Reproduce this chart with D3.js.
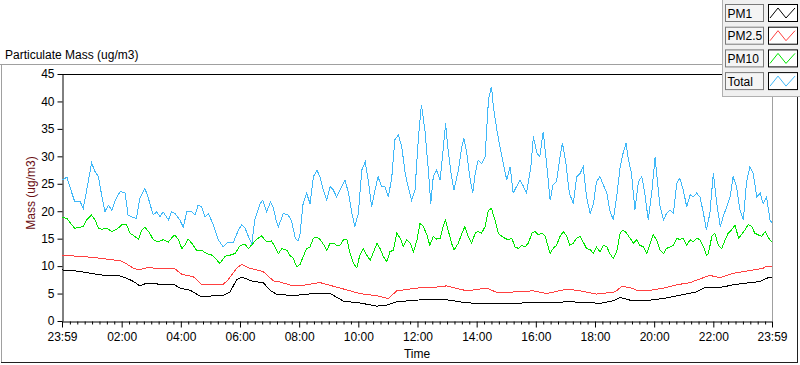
<!DOCTYPE html>
<html>
<head>
<meta charset="utf-8">
<title>Particulate Mass</title>
<script src="https://d3js.org/d3.v7.min.js"></script>
<style>
  body { margin: 0; background: #fff; }
  svg text { font-family: "Liberation Sans", Arial, sans-serif; font-size: 12px; }
</style>
</head>
<body>
<svg id="chart" width="800" height="365"></svg>
<script>
// samples: [minutes since 23:59, ug/m3]
const pm1Data = [[0,9.3],[30,9.1],[57,8.7],[77,8.4],[118,8.2],[131,7.8],[145,7.2],[158,6.4],[172,6.9],[199,6.7],[226,6.7],[239,6.0],[260,5.6],[283,4.4],[307,4.6],[327,4.7],[341,5.3],[354,7.5],[364,8.0],[388,7.2],[408,7.0],[422,5.6],[435,4.9],[469,4.6],[496,4.9],[523,5.0],[544,5.0],[571,3.6],[604,3.3],[638,2.7],[659,2.9],[679,3.5],[719,3.8],[753,4.0],[787,3.8],[821,3.3],[861,3.2],[902,3.2],[942,3.3],[983,3.3],[1024,3.5],[1064,3.4],[1091,3.2],[1118,3.7],[1132,4.3],[1152,3.8],[1193,3.8],[1220,4.1],[1253,4.7],[1287,5.3],[1301,6.0],[1314,6.1],[1341,6.2],[1361,6.6],[1388,6.9],[1416,7.2],[1429,7.8],[1440,8.0]]

const pm25Data = [[0,12.0],[30,11.8],[63,11.6],[97,11.2],[118,11.0],[131,10.4],[145,9.6],[155,9.3],[172,9.7],[199,9.6],[229,9.5],[243,8.5],[266,8.1],[283,6.7],[307,6.7],[327,6.7],[337,7.5],[354,9.6],[364,10.3],[381,9.6],[408,9.0],[429,7.3],[442,7.1],[469,6.4],[489,6.5],[523,7.0],[564,6.0],[604,5.0],[638,4.6],[662,4.1],[679,5.5],[719,6.0],[753,6.1],[780,6.4],[821,5.5],[861,6.0],[882,5.2],[922,5.3],[956,5.5],[983,5.0],[1024,5.8],[1051,5.5],[1084,4.9],[1122,5.3],[1135,6.3],[1152,6.1],[1166,5.6],[1193,5.6],[1220,6.0],[1247,6.6],[1274,7.0],[1301,7.9],[1314,8.3],[1335,7.9],[1355,8.5],[1368,8.8],[1395,9.2],[1422,9.6],[1429,10.0],[1440,10.0]]

const pm10Data = [[0,18.9],[10,18.7],[20,17.5],[26,16.9],[37,17.1],[43,17.2],[50,18.4],[60,19.3],[67,18.4],[74,16.9],[81,16.7],[91,16.9],[101,16.3],[111,16.7],[121,17.5],[131,17.5],[138,16.0],[148,15.4],[155,14.9],[162,16.6],[168,17.1],[178,16.0],[185,14.8],[195,14.4],[205,14.8],[216,14.4],[222,15.1],[229,15.7],[236,14.8],[243,13.2],[249,13.8],[256,14.9],[263,14.2],[273,12.9],[283,12.9],[293,12.3],[304,12.0],[314,11.1],[320,10.5],[331,11.8],[341,12.0],[351,12.3],[361,13.7],[371,14.0],[378,13.2],[385,13.9],[395,14.9],[405,15.5],[415,14.4],[425,14.6],[432,13.5],[439,12.3],[446,13.2],[456,12.9],[462,12.0],[469,11.4],[476,9.9],[483,10.3],[489,11.7],[496,13.2],[503,13.5],[510,15.1],[517,15.3],[523,14.9],[530,14.0],[537,12.9],[544,14.2],[550,14.2],[557,13.8],[564,13.8],[571,14.8],[578,14.8],[584,12.4],[591,10.5],[598,9.7],[604,12.0],[611,13.2],[618,12.0],[625,11.1],[632,12.6],[639,14.2],[645,13.2],[652,11.7],[659,10.8],[665,12.6],[672,12.9],[679,16.0],[686,15.1],[692,13.5],[699,14.8],[706,14.2],[713,12.6],[720,14.8],[726,17.8],[733,17.2],[740,15.7],[746,13.8],[753,15.4],[760,14.9],[767,15.1],[773,17.2],[778,18.4],[783,16.6],[790,14.2],[795,12.9],[804,14.2],[811,16.0],[817,17.2],[824,15.4],[831,14.2],[838,16.0],[844,16.3],[851,16.0],[858,17.2],[865,20.2],[871,20.5],[878,18.4],[885,16.0],[892,15.4],[898,15.1],[905,14.8],[912,15.1],[919,13.5],[926,13.2],[932,13.8],[939,13.5],[946,14.2],[953,16.0],[959,16.3],[966,15.7],[973,16.0],[980,15.5],[986,13.5],[990,12.3],[996,13.2],[1003,13.8],[1010,15.4],[1017,16.3],[1024,15.4],[1030,13.8],[1037,14.2],[1044,15.1],[1051,15.4],[1057,14.4],[1064,13.2],[1071,13.0],[1078,12.3],[1084,13.5],[1091,12.6],[1098,13.8],[1105,13.5],[1111,12.3],[1118,11.4],[1125,12.6],[1132,16.0],[1138,16.6],[1145,16.0],[1152,15.1],[1159,14.2],[1166,14.8],[1172,13.8],[1179,13.5],[1186,12.3],[1193,14.2],[1199,15.7],[1206,14.8],[1213,12.9],[1220,12.3],[1226,13.2],[1233,13.5],[1240,13.8],[1247,15.1],[1253,14.8],[1260,15.1],[1267,13.8],[1274,14.8],[1280,14.4],[1287,15.1],[1294,14.8],[1301,13.5],[1307,12.0],[1311,12.3],[1318,15.4],[1324,16.0],[1331,13.8],[1338,13.2],[1345,14.8],[1351,16.0],[1358,16.6],[1365,17.5],[1372,15.1],[1378,15.7],[1385,16.6],[1392,17.6],[1399,17.2],[1405,16.0],[1412,15.7],[1419,15.4],[1426,16.3],[1433,15.1],[1440,14.4]]

const totalData = [[0,25.7],[10,26.2],[20,23.3],[26,21.7],[37,21.7],[43,20.5],[49,23.3],[60,28.8],[67,27.2],[74,26.3],[81,22.6],[87,19.9],[94,21.1],[101,20.2],[108,22.0],[118,23.6],[128,23.3],[134,19.3],[141,19.0],[151,18.7],[158,22.4],[168,24.2],[175,22.4],[185,19.3],[192,19.9],[199,19.0],[205,19.9],[216,18.4],[222,19.9],[229,19.6],[239,18.4],[246,17.1],[253,19.9],[263,19.9],[270,19.3],[276,21.1],[283,20.8],[290,19.0],[297,19.6],[307,17.5],[317,14.8],[327,13.5],[337,14.4],[347,14.2],[358,16.6],[364,17.5],[371,17.0],[378,15.4],[385,14.0],[391,18.4],[402,21.4],[407,22.0],[415,19.9],[423,21.7],[429,20.5],[435,18.1],[439,17.2],[449,19.6],[459,19.3],[466,18.1],[473,15.1],[479,14.6],[483,16.0],[489,21.4],[496,23.3],[503,21.4],[510,26.3],[517,27.5],[523,26.3],[530,23.9],[537,22.0],[544,24.5],[550,23.9],[557,22.6],[564,23.9],[574,25.7],[581,23.3],[588,19.6],[594,17.2],[601,19.6],[608,27.5],[615,29.0],[621,25.7],[628,20.8],[635,23.9],[641,26.3],[648,24.5],[655,24.5],[662,22.6],[669,26.3],[675,33.0],[682,33.9],[689,31.8],[696,26.9],[702,24.5],[709,22.0],[716,23.9],[723,33.6],[729,39.4],[736,34.8],[743,27.5],[748,21.4],[753,26.3],[760,27.5],[767,25.7],[773,31.2],[778,36.0],[783,31.2],[790,26.3],[795,23.9],[804,27.5],[811,31.8],[815,33.3],[821,30.6],[827,26.3],[833,23.3],[838,26.9],[844,29.3],[851,28.7],[858,29.9],[865,40.3],[871,42.7],[875,39.0],[882,34.8],[888,31.8],[895,28.7],[902,25.7],[909,28.1],[915,23.3],[922,24.5],[929,25.7],[936,24.5],[942,23.3],[951,28.1],[956,33.6],[963,30.6],[969,29.9],[976,34.5],[983,28.5],[990,22.0],[996,24.8],[1003,25.4],[1010,29.9],[1015,32.4],[1022,28.7],[1029,23.3],[1037,21.4],[1044,26.3],[1051,26.9],[1057,28.1],[1064,22.6],[1071,19.6],[1078,21.4],[1084,25.4],[1091,26.3],[1098,24.8],[1105,23.3],[1111,20.2],[1118,18.4],[1125,22.6],[1132,28.1],[1138,30.6],[1144,32.4],[1149,29.3],[1155,26.9],[1162,20.2],[1169,25.4],[1176,26.3],[1182,23.3],[1189,18.4],[1196,23.3],[1203,29.9],[1206,26.9],[1213,20.8],[1220,18.4],[1226,19.6],[1233,20.2],[1240,19.6],[1247,25.1],[1253,26.0],[1260,23.9],[1267,20.8],[1274,23.0],[1280,22.6],[1287,23.3],[1294,22.6],[1301,19.6],[1307,16.6],[1314,19.6],[1321,26.9],[1328,21.4],[1335,17.2],[1341,19.0],[1348,20.8],[1355,22.6],[1361,26.3],[1368,24.5],[1375,20.2],[1382,18.4],[1388,25.1],[1395,28.1],[1402,26.9],[1409,22.6],[1416,23.3],[1422,21.4],[1429,22.6],[1436,18.4],[1440,17.8]]

const seriesNames = ["PM1", "PM2.5", "PM10", "Total"]
const seriesColors = ["#000000", "#ff4040", "#00e600", "#40b8f8"]
const xTickLabels = ["23:59","02:00","04:00","06:00","08:00","10:00","12:00","14:00","16:00","18:00","20:00","22:00","23:59"]
const yTicks = [0,5,10,15,20,25,30,35,40,45]

const svg = d3.select('#chart')
const plotLeft = 62, plotTop = 74, plotRight = 772, plotBottom = 321

const x = d3.scaleLinear().domain([0, 1440]).range([plotLeft, plotRight])
const y = d3.scaleLinear().domain([0, 45]).range([plotBottom, plotTop])

// clock "HH:MM" -> minutes since 23:59
function toMin(s, i) {
  if (i === xTickLabels.length - 1) return 1440
  const [h, m] = s.split(':').map(Number)
  return (h * 60 + m + 1) % 1440
}

// outer frame
svg.append('line').attr('x1', 0).attr('x2', 797).attr('y1', 64.5).attr('y2', 64.5).attr('stroke', '#a0a0a0')
svg.append('line').attr('x1', 1.5).attr('x2', 1.5).attr('y1', 64).attr('y2', 363).attr('stroke', '#a0a0a0')
svg.append('line').attr('x1', 797.5).attr('x2', 797.5).attr('y1', 64).attr('y2', 363).attr('stroke', '#202020')
svg.append('line').attr('x1', 1).attr('x2', 798).attr('y1', 362.5).attr('y2', 362.5).attr('stroke', '#202020')

svg.append('text').attr('x', 5).attr('y', 59).attr('fill', '#000').text('Particulate Mass (ug/m3)')

// plot box
svg.append('line').attr('x1', plotLeft).attr('x2', plotRight).attr('y1', plotTop + 0.5).attr('y2', plotTop + 0.5).attr('stroke', '#000')
svg.append('line').attr('x1', plotRight + 0.5).attr('x2', plotRight + 0.5).attr('y1', plotTop).attr('y2', plotBottom).attr('stroke', '#a0a0a0')

// y axis
const yAxis = svg.append('g').attr('transform', `translate(${plotLeft + 0.5},0)`)
  .call(d3.axisLeft(y).tickValues(yTicks).tickSize(5).tickPadding(3).tickSizeOuter(0))
yAxis.select('.domain').attr('stroke', '#000')
yAxis.selectAll('.tick line').attr('stroke', '#000')
yAxis.selectAll('.tick text').attr('fill', '#000').style('font-size', '12px')
  .style('font-family', '"Liberation Sans", Arial, sans-serif')

// x axis: major ticks from labels, minor ticks every quarter hour
const xMajor = xTickLabels.map(toMin)
const xMinor = d3.range(15, 1440, 15).filter(c => c % 120 !== 0).map(c => c + 1)
const xAxisMinor = svg.append('g').attr('transform', `translate(0,${plotBottom + 0.5})`)
  .call(d3.axisBottom(x).tickValues(xMinor).tickSize(3).tickFormat('').tickSizeOuter(0))
xAxisMinor.select('.domain').remove()
xAxisMinor.selectAll('.tick line').attr('stroke', '#000')

const xAxis = svg.append('g').attr('transform', `translate(0,${plotBottom + 0.5})`)
  .call(d3.axisBottom(x).tickValues(xMajor).tickSize(6).tickPadding(5)
    .tickFormat((d, i) => xTickLabels[i]).tickSizeOuter(0))
xAxis.select('.domain').attr('stroke', '#000')
xAxis.selectAll('.tick line').attr('stroke', '#000')
xAxis.selectAll('.tick text').attr('fill', '#000').style('font-size', '12px')
  .style('font-family', '"Liberation Sans", Arial, sans-serif')

svg.append('text').attr('x', (plotLeft + plotRight) / 2).attr('y', 358).attr('text-anchor', 'middle')
  .attr('fill', '#000').text('Time')
svg.append('text').attr('transform', 'translate(35,193) rotate(-90)').attr('text-anchor', 'middle')
  .attr('fill', '#6b0f14').text('Mass (ug/m3)')

// data lines
const line = d3.line().x(d => x(d[0])).y(d => y(d[1]))
const allData = [pm1Data, pm25Data, pm10Data, totalData]
svg.append('g').selectAll('path').data(allData).join('path')
  .attr('d', line)
  .attr('fill', 'none')
  .attr('stroke', (d, i) => seriesColors[i])
  .attr('stroke-width', 1)
  .attr('shape-rendering', 'crispEdges')

// legend panel
const lg = svg.append('g')
lg.append('rect').attr('x', 722.5).attr('y', -1).attr('width', 80).attr('height', 97.5)
  .attr('fill', '#f0f0f0').attr('stroke', '#b0b0b0')
const rows = lg.selectAll('g.row').data(seriesNames).join('g')
  .attr('transform', (d, i) => `translate(0,${4 + i * 22.7})`)
rows.append('rect').attr('x', 725.5).attr('y', 0.5).attr('width', 38).attr('height', 17)
  .attr('fill', '#f4f4f4').attr('stroke', '#7a7a7a')
rows.append('text').attr('x', 727.5).attr('y', 13.5).attr('fill', '#000').style('font-size', '12px').text(d => d)
rows.append('rect').attr('x', 768.5).attr('y', 0.5).attr('width', 29).attr('height', 17)
  .attr('fill', '#fff').attr('stroke', '#000')
rows.append('path')
  .attr('d', 'M770,14 L778,4 L786,14 L795,4')
  .attr('fill', 'none')
  .attr('stroke', (d, i) => seriesColors[i])
</script>
</body>
</html>
